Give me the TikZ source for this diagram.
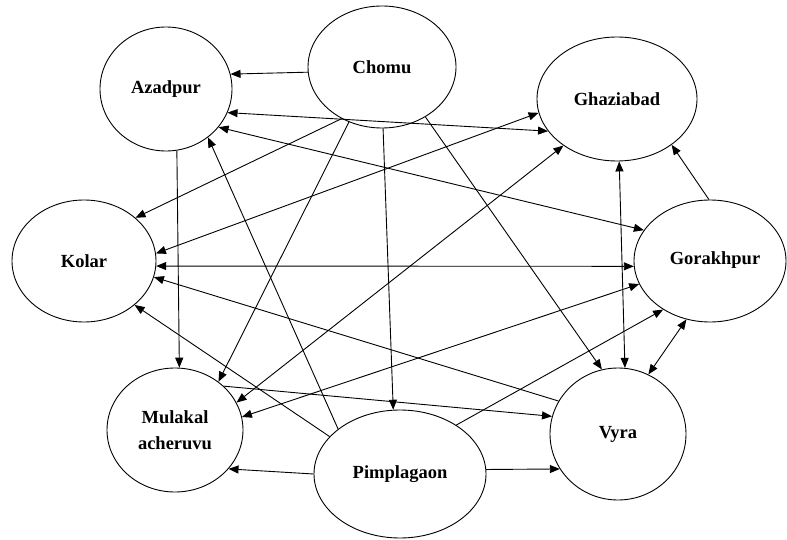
\documentclass[tikz,border=0pt]{standalone}
\usepackage{fontspec}
\setmainfont{Liberation Serif}
\usetikzlibrary{arrows.meta,shapes.geometric}
\begin{document}
\begin{tikzpicture}[x=1pt,y=-1pt,
  place/.style={draw, ellipse, line width=0.9pt, inner sep=0pt,
    font=\fontsize{18.5}{26}\selectfont\bfseries, align=center},
  tipA/.tip={Triangle[length=10pt,width=8pt]},
  link/.style={line width=0.9pt, -tipA},
  both/.style={line width=0.9pt, tipA-tipA}]
\useasboundingbox (0,0) rectangle (787,540);
\node[place, minimum width=132pt, minimum height=124pt] (az) at (166,89) {Azadpur};
\node[place, minimum width=148pt, minimum height=122pt] (ch) at (382,67) {Chomu};
\node[place, minimum width=160pt, minimum height=124pt] (gh) at (617,99) {Ghaziabad};
\node[place, minimum width=144pt, minimum height=122pt] (ko) at (84,261) {Kolar};
\node[place, minimum width=152pt, minimum height=122pt,
  label={[font=\fontsize{18.5}{26}\selectfont\bfseries, xshift=5pt, yshift=1pt]center:Gorakhpur}] (go) at (710,261) {};
\node[place, minimum width=136pt, minimum height=124pt] (mu) at (175,430) {Mulakal\\acheruvu};
\node[place, minimum width=172pt, minimum height=128pt] (pi) at (400,474) {Pimplagaon};
\node[place, minimum width=136pt, minimum height=132pt] (vy) at (618,434) {Vyra};

\draw[link] (ch.184.6) -- (az.13.4);
\draw[both] (az.-21.5) -- (gh.205.5);
\draw[both] (az.-36.2) -- (go.155.2);
\draw[link] (ch.232.4) -- (ko.40.1);
\draw[both] (ko.6.3) -- (gh.190.4);
\draw[link] (ch.239.3) -- (mu.48.7);
\draw[link] (ch.271.9) -- (pi.96.1);
\draw[link] (ch.-49.7) -- (vy.104.2);
\draw[link] (az.-80.8) -- (mu.86.3);
\draw[link] (pi.144.6) -- (az.-49.2);
\draw[both] (ko.-4.8) -- (go.184.5);
\draw[both] (gh.272.8) -- (vy.84.8);
\draw[link] (go.91.9) -- (gh.-40.6);
\draw[both] (mu.24.0) -- (gh.221.8);
\draw[both] (mu.11.9) -- (go.198.7);
\draw[link] (vy.151.9) -- (ko.-13.9);
\draw[link] (pi.152.2) -- (ko.-41.3);
\draw[link] (mu.42.5) -- (vy.165.6);
\draw[link] (pi.41.3) -- (go.226.1);
\draw[both] (go.248.0) -- (vy.63.0);
\draw[link] (pi.180.7) -- (mu.-36.3);
\draw[link] (pi.3.3) -- (vy.211.5);
\end{tikzpicture}
\end{document}
